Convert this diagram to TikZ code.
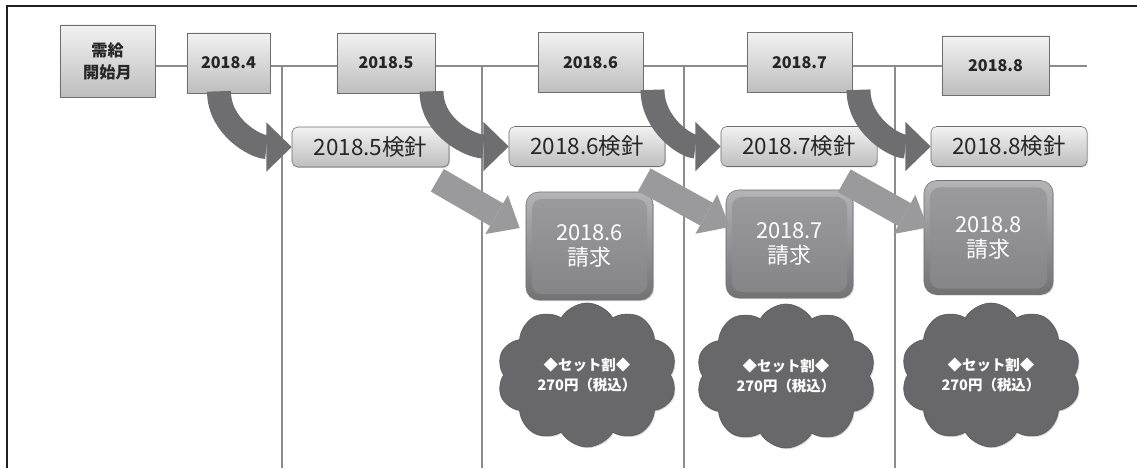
\documentclass[tikz,border=0pt]{standalone}
\usepackage{fontspec}
\setmainfont{Noto Sans CJK JP}
\usetikzlibrary{shapes.symbols,arrows.meta,positioning,calc,shadows}
\definecolor{framec}{HTML}{231F20}
\definecolor{linec}{HTML}{8C8C8C}
\definecolor{boxedge}{HTML}{6E6E6E}
\definecolor{boxtop}{HTML}{F2F2F2}
\definecolor{boxbot}{HTML}{BEBEBE}
\definecolor{billtop}{HTML}{B4B4B6}
\definecolor{billbot}{HTML}{727274}
\definecolor{facetop}{HTML}{9C9C9E}
\definecolor{facebot}{HTML}{848486}
\definecolor{cloudc}{HTML}{68686A}
\definecolor{darrow}{HTML}{6E6E70}
\definecolor{larrow}{HTML}{9A9A9C}
\tikzstyle{tline} = [draw=linec, line width=1.1pt]
\tikzset{
  month/.style={draw=boxedge, top color=boxtop, bottom color=boxbot, minimum height=1.5cm,
    font=\fontsize{11.5}{15.6}\selectfont\bfseries, text=black!85, align=center,
    drop shadow={shadow xshift=0.7pt, shadow yshift=-0.7pt, opacity=0.35}},
  meter/.style={draw=boxedge, top color=boxtop, bottom color=boxbot, rounded corners=4pt,
    minimum width=3.9cm, minimum height=1cm, font=\fontsize{16}{18}\selectfont, text=black!85,
    drop shadow={shadow xshift=0.7pt, shadow yshift=-0.7pt, opacity=0.35}},
  bill/.style={draw=billbot, top color=billtop, bottom color=billbot, rounded corners=9pt,
    minimum width=3.175cm, minimum height=2.7cm, align=center, text=white,
    font=\fontsize{15.6}{17.8}\selectfont,
    path picture={\shade[top color=facetop, bottom color=facebot, rounded corners=7pt]
      ($(path picture bounding box.south west)+(6,-6)$) rectangle
      ($(path picture bounding box.north east)+(-6,7)$);},
    drop shadow={shadow xshift=0.8pt, shadow yshift=-0.8pt, opacity=0.3}},
  discount/.style={cloud, cloud puffs=10, cloud puff arc=120, aspect=1.25, draw=cloudc!85!black,
    fill=cloudc, minimum width=4.5cm, minimum height=3.6cm, align=center, text=white,
    font=\fontsize{10.3}{14.2}\selectfont\bfseries,
    drop shadow={shadow xshift=0.8pt, shadow yshift=-0.8pt, opacity=0.3}},
  curvearrow/.style={draw=darrow, line width=17pt,
    -{Triangle[width=35pt,length=18pt,line width=0pt]}},
  slantarrow/.style={draw=larrow, line width=18.5pt,
    -{Triangle[width=32pt,length=19pt,line width=0pt]}}
}
\begin{document}
\begin{tikzpicture}[x=0.025cm,y=-0.025cm]
  \useasboundingbox (0,0) rectangle (1137,468);
  \draw[framec, line width=2.1pt] (7,468) -- (7,6) -- (1137,6);
  \path[tline] (155,66) -- (1087,66);
  \path[tline] (282,66) -- (282,468);
  \path[tline] (482,66) -- (482,468);
  \path[tline] (684,66) -- (684,468);
  \path[tline] (895,66) -- (895,468);

  \node[month, minimum width=2.375cm, minimum height=1.8cm] (m0) at (107.5,61) {需給\\開始月};
  \node[month, minimum width=2.075cm] (m4) at (228.5,63) {2018.4};
  \node[month, minimum width=2.45cm] (m5) at (386,63) {2018.5};
  \node[month, minimum width=2.625cm] (m6) at (590.5,62.5) {2018.6};
  \node[month, minimum width=2.625cm] (m7) at (799.5,62.5) {2018.7};
  \node[month, minimum width=2.675cm, minimum height=1.475cm] (m8) at (995.5,65.5) {2018.8};

  \node[meter, minimum width=3.925cm] (r5) at (370.5,147) {2018.5検針};
  \node[meter] (r6) at (587,146.5) {2018.6検針};
  \node[meter] (r7) at (799,146.5) {2018.7検針};
  \node[meter] (r8) at (1009,146.5) {2018.8検針};

  \node[bill] (b6) at (589.5,246) {2018.6\\請求};
  \node[bill] (b7) at (789.5,244) {2018.7\\請求};
  \node[bill, minimum width=3.225cm, minimum height=2.85cm] (b8) at (988.5,237.5) {2018.8\\請求};

  \draw[curvearrow] ($(m4.south)+(-9.5,-2)$) to[out=-90,in=180] (r5.west);
  \draw[curvearrow] ($(m5.south)+(45.5,-2)$) to[out=-90,in=180] (r6.west);
  \draw[curvearrow] ($(m6.south)+(62,-3)$) to[out=-90,in=180] (r7.west);
  \draw[curvearrow] ($(m7.south)+(59,-3)$) to[out=-90,in=180] (r8.west);

  \draw[slantarrow] ($(r5.south east)+(-12,13)$) -- ($(b6.west)+(-6,-18)$);
  \draw[slantarrow] ($(r6.south east)+(-21,13)$) -- ($(b7.west)+(4,-17)$);
  \draw[slantarrow] ($(r7.south east)+(-33,14)$) -- ($(b8.west)+(4,-10)$);

  \node[discount] (c6) at (587,375) {◆セット割◆\\270円（税込）};
  \node[discount] (c7) at (786,376) {◆セット割◆\\270円（税込）};
  \node[discount] (c8) at (991,375) {◆セット割◆\\270円（税込）};
\end{tikzpicture}
\end{document}
